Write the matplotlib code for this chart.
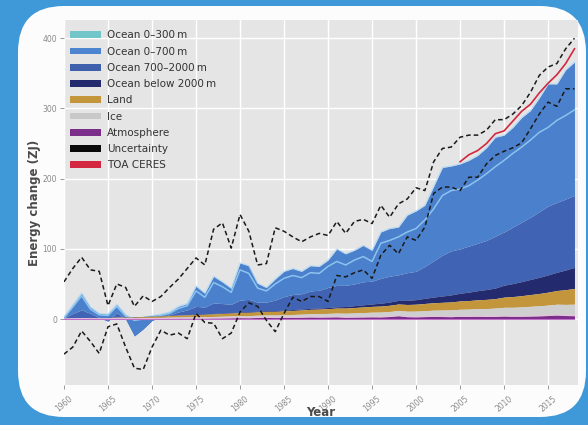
import numpy as np
import matplotlib
matplotlib.use("Agg")
import matplotlib.pyplot as plt
from matplotlib.patches import FancyBboxPatch, Patch

# ---- data (ZJ, relative to 1960) ----
years = np.arange(1960, 2019)

atmosphere = [0.3, 0.5, 0.6, 0.5, 0.4, 0.5, 0.7, 0.6, 0.4, 0.6,
              0.8, 0.9, 1.0, 1.2, 1.1, 1.3, 1.2, 1.5, 1.6, 1.8,
              2.0, 1.9, 2.2, 2.4, 2.1, 2.3, 2.5, 2.6, 3.0, 2.8,
              3.0, 3.2, 2.6, 2.8, 3.0, 3.2, 3.1, 3.6, 4.8, 3.4,
              3.2, 3.5, 3.8, 3.6, 3.4, 3.9, 3.7, 4.0, 3.6, 3.8,
              4.4, 3.9, 4.0, 4.3, 4.6, 5.0, 5.8, 5.0, 4.8]

ice = [0.2, 0.3, 0.4, 0.5, 0.6, 0.7, 0.8, 0.9, 1.0, 1.1,
       1.2, 1.3, 1.5, 1.6, 1.8, 1.9, 2.1, 2.2, 2.4, 2.6,
       2.8, 3.0, 3.2, 3.4, 3.6, 3.8, 4.0, 4.3, 4.5, 4.8,
       5.0, 5.3, 5.6, 5.9, 6.2, 6.5, 6.8, 7.1, 7.4, 7.7,
       8.0, 8.4, 8.8, 9.2, 9.6, 10.0, 10.4, 10.8, 11.3, 11.8,
       12.3, 12.8, 13.3, 13.8, 14.3, 14.8, 15.3, 15.8, 16.3]

land = [0.0, 0.2, 0.4, 0.6, 0.7, 0.9, 1.1, 1.3, 1.5, 1.7,
        1.9, 2.2, 2.4, 2.6, 2.9, 3.1, 3.3, 3.6, 3.8, 4.0,
        4.3, 4.5, 4.8, 5.0, 5.2, 5.5, 5.7, 6.0, 6.3, 6.5,
        6.8, 7.1, 7.4, 7.7, 8.0, 8.3, 8.6, 8.9, 9.2, 9.6,
        9.9, 10.3, 10.6, 11.0, 11.4, 11.8, 12.2, 12.6, 13.1, 13.5,
        14.5, 15.3, 16.0, 16.8, 17.5, 18.5, 19.5, 21.0, 22.5]

ocean_below_2000 = [0.0, 0.0, 0.1, 0.1, 0.1, 0.1, 0.2, 0.2, 0.2, 0.3,
                    0.3, 0.3, 0.4, 0.4, 0.5, 0.5, 0.6, 0.6, 0.7, 0.7,
                    0.8, 0.8, 0.9, 1.0, 1.0, 1.1, 1.2, 1.3, 1.4, 1.5,
                    1.6, 1.8, 2.2, 2.6, 3.0, 3.5, 4.0, 4.6, 5.2, 5.8,
                    6.5, 7.3, 8.1, 9.0, 10.0, 11.0, 12.0, 13.0, 14.0, 15.0,
                    17.0, 18.5, 20.0, 21.5, 23.0, 24.5, 26.0, 28.0, 30.0]

ocean_700_2000 = [1.0, 7.0, 11.5, 6.3, 0.2, -5.2, 6.2, -3.0, -27.1, -17.7,
                  -6.2, -1.7, 0.7, 4.2, 6.7, 11.2, 9.8, 15.1, 13.5, 11.9,
                  17.1, 17.8, 12.9, 12.2, 15.1, 19.3, 21.6, 21.8, 24.8, 25.4,
                  28.6, 30.6, 30.2, 31.0, 32.8, 32.5, 35.5, 36.8, 36.4, 39.5,
                  40.4, 45.5, 51.7, 58.2, 62.6, 63.3, 65.7, 67.6, 70.0, 73.9,
                  75.8, 80.5, 84.7, 88.6, 93.6, 98.2, 99.4, 101.2, 102.4]

ocean_0_700 = [0.5, 12, 24, 9, 6, 10, 12, 6, 24, 16,
               7, 4, 4, 8, 9, 29, 20, 38, 31, 23,
               53, 48, 27, 21, 30, 36, 37, 32, 36, 34,
               39, 52, 45, 48, 52, 44, 66, 68, 68, 82,
               86, 87, 106, 125, 121, 121, 122, 125, 132, 141,
               138, 142, 149, 152, 162, 174, 169, 184, 190]

ocean_0_300 = [0, 9, 20, 6, 4, 8, 9, 4, 22, 14,
               5, 2, 2, 5, 6, 22, 14, 29, 24, 17,
               43, 37, 20, 16, 23, 26, 27, 23, 26, 24,
               30, 34, 29, 34, 36, 28, 50, 51, 54, 58,
               61, 66, 74, 85, 86, 85, 86, 90, 95, 99,
               102, 105, 107, 110, 113, 112, 117, 119, 122]

uncert_upper = [53, 72, 88, 70, 68, 19, 50, 45, 18, 33,
                25, 32, 45, 57, 72, 87, 77, 128, 137, 101,
                149, 125, 77, 79, 130, 125, 117, 110, 117, 122,
                119, 139, 122, 139, 142, 136, 162, 145, 164, 171,
                187, 183, 224, 243, 245, 259, 262, 262, 269, 284,
                284, 292, 304, 323, 347, 359, 364, 385, 400]

uncert_lower = [-50, -40, -17, -32, -49, -11, -7, -40, -70, -72,
                -40, -16, -23, -20, -28, 8, -5, -6, -28, -20,
                10, 23, 18, -2, -18, 8, 31, 25, 32, 32,
                25, 62, 60, 66, 70, 58, 91, 105, 93, 117,
                112, 131, 179, 188, 188, 183, 202, 202, 221, 233,
                239, 244, 251, 271, 292, 309, 303, 328, 328]

toa_years = np.arange(2005, 2019)
toa_ceres = [224, 234, 240, 250, 264, 268, 282, 296, 306, 322, 336, 348, 364, 385]

labels = ["Ocean 0\u2013300\u2009m", "Ocean 0\u2013700\u2009m", "Ocean 700\u20132000\u2009m",
          "Ocean below 2000\u2009m", "Land", "Ice", "Atmosphere", "Uncertainty", "TOA CERES"]
colors = ["#72c6c9", "#4d84cf", "#3f60ad", "#232a6e", "#c3963c",
          "#c8c8c8", "#7b2d8a", "#0a0a0a", "#d3283f"]

# ---- cumulative stack ----
atm_top = np.array(atmosphere)
ice_top = atm_top + np.array(ice)
land_top = ice_top + np.array(land)
deep_top = land_top + np.array(ocean_below_2000)
mid_top = deep_top + np.array(ocean_700_2000)
total_top = mid_top + np.array(ocean_0_700)
top_300 = mid_top + np.array(ocean_0_300)

W, H = 588, 425
fig = plt.figure(figsize=(W / 100, H / 100), dpi=100, facecolor="#3f98d8")

# rounded white card behind the chart
bg = fig.add_axes([0, 0, 1, 1])
bg.set_xlim(0, W)
bg.set_ylim(H, 0)
bg.axis("off")
bg.add_patch(FancyBboxPatch((18, 6), 568, 411,
                            boxstyle="round,pad=0,rounding_size=46",
                            facecolor="#fcfcfc", edgecolor="none"))

ax = fig.add_axes([64 / W, 1 - 385 / H, 514 / W, 365 / H])
ax.set_facecolor("#e5e5e5")
for s in ax.spines.values():
    s.set_visible(False)
ax.grid(True, color="white", lw=1.0, zorder=0)
ax.set_axisbelow(True)

# ocean layers
ax.fill_between(years, deep_top, mid_top, color="#4063b3", lw=0, zorder=2)
ax.fill_between(years, mid_top, total_top, color="#4b80cc", lw=0, zorder=2.1)
ax.plot(years, total_top, color="#b3daf4", lw=0.9, alpha=0.8, zorder=2.2)
ax.plot(years, top_300, color="#8cc3ee", lw=1.1, zorder=2.3)

# deep ocean, land, ice and atmosphere
ax.fill_between(years, land_top, deep_top, color="#232a6e", lw=0, zorder=3)
ax.fill_between(years, ice_top, land_top, color="#c3963c", lw=0, zorder=3.1)
ax.fill_between(years, atm_top, ice_top, color="#cfcfcf", lw=0, zorder=3.2)
ax.fill_between(years, 0, atm_top, color="#7b2d8a", lw=0, zorder=3.3)
ax.plot(years, atm_top, color="#e6c3de", lw=0.8, zorder=3.4)
ax.plot(years, np.zeros(len(years)), color="#c070c8", lw=0.8, zorder=3.4)

# CERES and uncertainty envelope
ax.plot(toa_years, toa_ceres, color="#d3283f", lw=1.2, zorder=4)
ax.plot(years, uncert_upper, color="#1a1a1a", lw=1.1, ls=(0, (3, 2)), zorder=5)
ax.plot(years, uncert_lower, color="#1a1a1a", lw=1.1, ls=(0, (3, 2)), zorder=5)

ax.set_xlim(1960, 2018.4)
ax.set_ylim(-94, 426)
ax.set_xticks(np.arange(1960, 2016, 5))
ax.set_yticks([0, 100, 200, 300, 400])
ax.tick_params(axis="both", colors="#8a8a8a", labelsize=5.5, length=3, width=0.6)
ax.tick_params(axis="y", pad=2)
for lab in ax.get_xticklabels():
    lab.set_rotation(40)
    lab.set_ha("center")

ax.set_xlabel("Year", fontsize=8.5, fontweight="bold", color="#4a4a4a")
ax.xaxis.set_label_coords(0.5, -0.058)
ax.set_ylabel("Energy change (ZJ)", fontsize=8.5, fontweight="bold", color="#4a4a4a")
ax.yaxis.set_label_coords(-0.044, 0.5)

handles = [Patch(facecolor=c, edgecolor="none") for c in colors]
ax.legend(handles, labels, loc="upper left", bbox_to_anchor=(-0.008, 1.0),
          frameon=False, fontsize=7.5, handlelength=2.9, handleheight=0.65,
          labelspacing=0.6, handletextpad=0.6, borderaxespad=0.6,
          labelcolor="#333333")

fig.savefig("out.png", dpi=100, facecolor=fig.get_facecolor())
